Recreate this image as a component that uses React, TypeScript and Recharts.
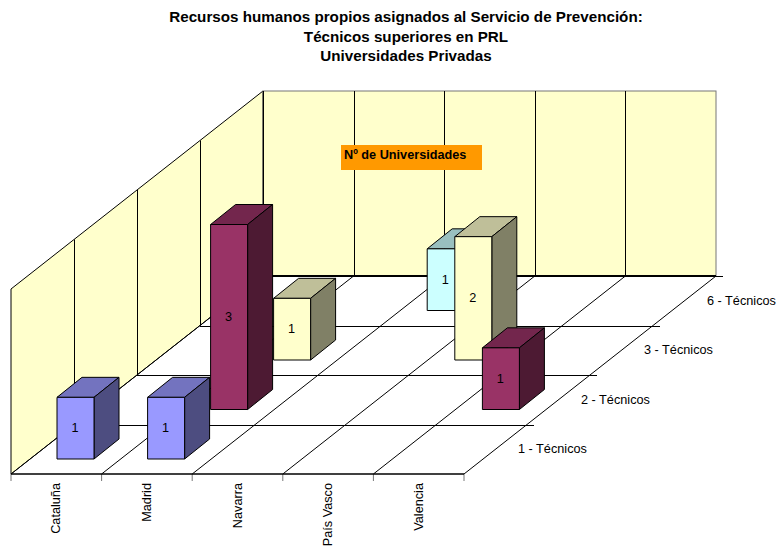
import React from 'react';
import { BarChart, Bar, XAxis, YAxis } from 'recharts';

const categories = ['Cataluña', 'Madrid', 'Navarra', 'País Vasco', 'Valencia'];
const tecnicos1 = [1, 1, null, null, null];
const tecnicos2 = [null, 3, null, null, 1];
const tecnicos3 = [null, 1, null, 2, null];
const tecnicos6 = [null, null, 1, null, null];
const depthLabels = ['1 - Técnicos', '2 - Técnicos', '3 - Técnicos', '6 - Técnicos'];
const titleLines = [
  'Recursos humanos propios asignados al Servicio de Prevención:',
  'Técnicos superiores en PRL',
  'Universidades Privadas',
];

const data = categories.map((name, i) => ({
  name,
  t1: tecnicos1[i],
  t2: tecnicos2[i],
  t3: tecnicos3[i],
  t6: tecnicos6[i],
}));

const FONT = 'Liberation Sans, Arial, sans-serif';
const LEFT = 11;
const RIGHT = 464;
const TOP = 289;
const FLOOR = 474;
const DEPTH_X = 63;
const DEPTH_Y = 49.5;
const BAR_WIDTH = 37;
const LABEL_SIZE = 12.7;

const Walls = () => {
  const n = depthLabels.length;
  const backX = DEPTH_X * n;
  const backY = DEPTH_Y * n;
  const step = (RIGHT - LEFT) / categories.length;
  const wallH = FLOOR - TOP;
  const lines = [];

  // back wall + left wall verticals
  for (let i = 1; i < categories.length; i++) {
    const x = Math.round(LEFT + backX + step * i) + 0.5;
    lines.push(<line key={`bw${i}`} x1={x} x2={x} y1={TOP - backY} y2={FLOOR - backY} stroke="#000" />);
  }
  for (let i = 1; i <= n; i++) {
    const x = Math.round(LEFT + DEPTH_X * i) + 0.5;
    lines.push(<line key={`lw${i}`} x1={x} x2={x} y1={TOP - DEPTH_Y * i} y2={FLOOR - DEPTH_Y * i} stroke="#000" />);
  }
  // floor lines running to the back
  for (let i = 0; i <= categories.length; i++) {
    const x = LEFT + step * i;
    lines.push(<line key={`fd${i}`} x1={x} x2={x + backX} y1={FLOOR} y2={FLOOR - backY} stroke="#000" />);
    lines.push(<line key={`ft${i}`} x1={x} x2={x} y1={FLOOR} y2={FLOOR + 7} stroke="#777" />);
  }
  // floor lines running across, with tick on the right edge
  for (let i = 1; i <= n; i++) {
    const y = Math.round(FLOOR - DEPTH_Y * i) + 0.5;
    lines.push(
      <line key={`fa${i}`} x1={LEFT + DEPTH_X * i} x2={RIGHT + DEPTH_X * i + 7} y1={y} y2={y} stroke="#000" />,
    );
  }

  return (
    <g>
      <polygon
        points={`${LEFT},${TOP} ${LEFT + backX},${TOP - backY} ${LEFT + backX},${FLOOR - backY} ${LEFT},${FLOOR}`}
        fill="#FFFFCC"
        stroke="#000"
      />
      <rect x={LEFT + backX} y={TOP - backY} width={RIGHT - LEFT} height={wallH} fill="#FFFFCC" stroke="#777" />
      {lines}
      <line x1={LEFT} x2={RIGHT} y1={FLOOR} y2={FLOOR} stroke="#000" strokeWidth={1.5} />
      <line x1={LEFT + backX} x2={RIGHT + backX} y1={FLOOR - backY} y2={FLOOR - backY} stroke="#000" strokeWidth={2} />
      {depthLabels.map((label, i) => (
        <text
          key={label}
          x={RIGHT + DEPTH_X * i + 54}
          y={FLOOR - DEPTH_Y * i - 21}
          fontSize={LABEL_SIZE}
          fontFamily={FONT}
          fill="#000"
        >
          {label}
        </text>
      ))}
    </g>
  );
};

const Heading = () => (
  <g>
    {titleLines.map((line, i) => (
      <text
        key={line}
        x={406}
        y={22 + i * 19.5}
        textAnchor="middle"
        fontSize={15.2}
        fontWeight="bold"
        fontFamily={FONT}
        fill="#000"
      >
        {line}
      </text>
    ))}
  </g>
);

const Badge = () => (
  <g>
    <rect x={341} y={145} width={141} height={25} fill="#FF9900" />
    <text x={344} y={159} fontSize={LABEL_SIZE} fontWeight="bold" fontFamily={FONT} fill="#000">
      Nº de Universidades
    </text>
  </g>
);

const shade = (hex: string, k: number) => {
  const v = [1, 3, 5].map((i) => Math.round(parseInt(hex.slice(i, i + 2), 16) * k));
  return `rgb(${v[0]},${v[1]},${v[2]})`;
};

// turns the flat bar from the library's scales into a box at its depth row
const box = (row: number, color: string, dataKey: string) => (props: any) => {
  const { x, y, width, height, payload } = props;
  const value = payload[dataKey];
  if (value == null) return <g />;
  const sx = x + 19 + DEPTH_X * row;
  const sy = y - 15 - DEPTH_Y * row;
  const dx = 25;
  const dy = 20;
  const edge = { stroke: '#000', strokeWidth: 1, strokeLinejoin: 'round' as const };
  return (
    <g>
      <polygon
        points={`${sx},${sy} ${sx + dx},${sy - dy} ${sx + width + dx},${sy - dy} ${sx + width},${sy}`}
        fill={shade(color, 0.75)}
        {...edge}
      />
      <polygon
        points={`${sx + width},${sy} ${sx + width + dx},${sy - dy} ${sx + width + dx},${sy + height - dy} ${sx + width},${sy + height}`}
        fill={shade(color, 0.5)}
        {...edge}
      />
      <rect x={sx} y={sy} width={width} height={height} fill={color} {...edge} />
      <text
        x={sx + width / 2 - 0.5}
        y={sy + height / 2 + 4}
        textAnchor="middle"
        fontSize={LABEL_SIZE}
        fontFamily={FONT}
        fill="#000"
      >
        {value}
      </text>
    </g>
  );
};

const CategoryTick = ({ x, payload }: any) => (
  <text
    transform={`rotate(-90 ${x} ${FLOOR + 9})`}
    x={x}
    y={FLOOR + 9}
    dy={4}
    textAnchor="end"
    fontSize={LABEL_SIZE}
    fontFamily={FONT}
    fill="#000"
  >
    {payload.value}
  </text>
);

export default function App() {
  return (
    <div style={{ position: 'absolute', left: 0, top: 0, width: 777, height: 547 }}>
      <BarChart
        width={777}
        height={547}
        data={data}
        barSize={BAR_WIDTH}
        barGap={-BAR_WIDTH}
        margin={{ top: TOP, bottom: 3, left: LEFT, right: 777 - RIGHT }}
      >
        <Walls />
        <Heading />
        <Badge />
        <XAxis dataKey="name" height={70} axisLine={false} tickLine={false} tick={<CategoryTick />} interval={0} />
        <YAxis hide domain={[0, 3]} />
        <Bar dataKey="t6" isAnimationActive={false} shape={box(3, '#CCFFFF', 't6')} />
        <Bar dataKey="t3" isAnimationActive={false} shape={box(2, '#FFFFCC', 't3')} />
        <Bar dataKey="t2" isAnimationActive={false} shape={box(1, '#993366', 't2')} />
        <Bar dataKey="t1" isAnimationActive={false} shape={box(0, '#9999FF', 't1')} />
      </BarChart>
    </div>
  );
}
